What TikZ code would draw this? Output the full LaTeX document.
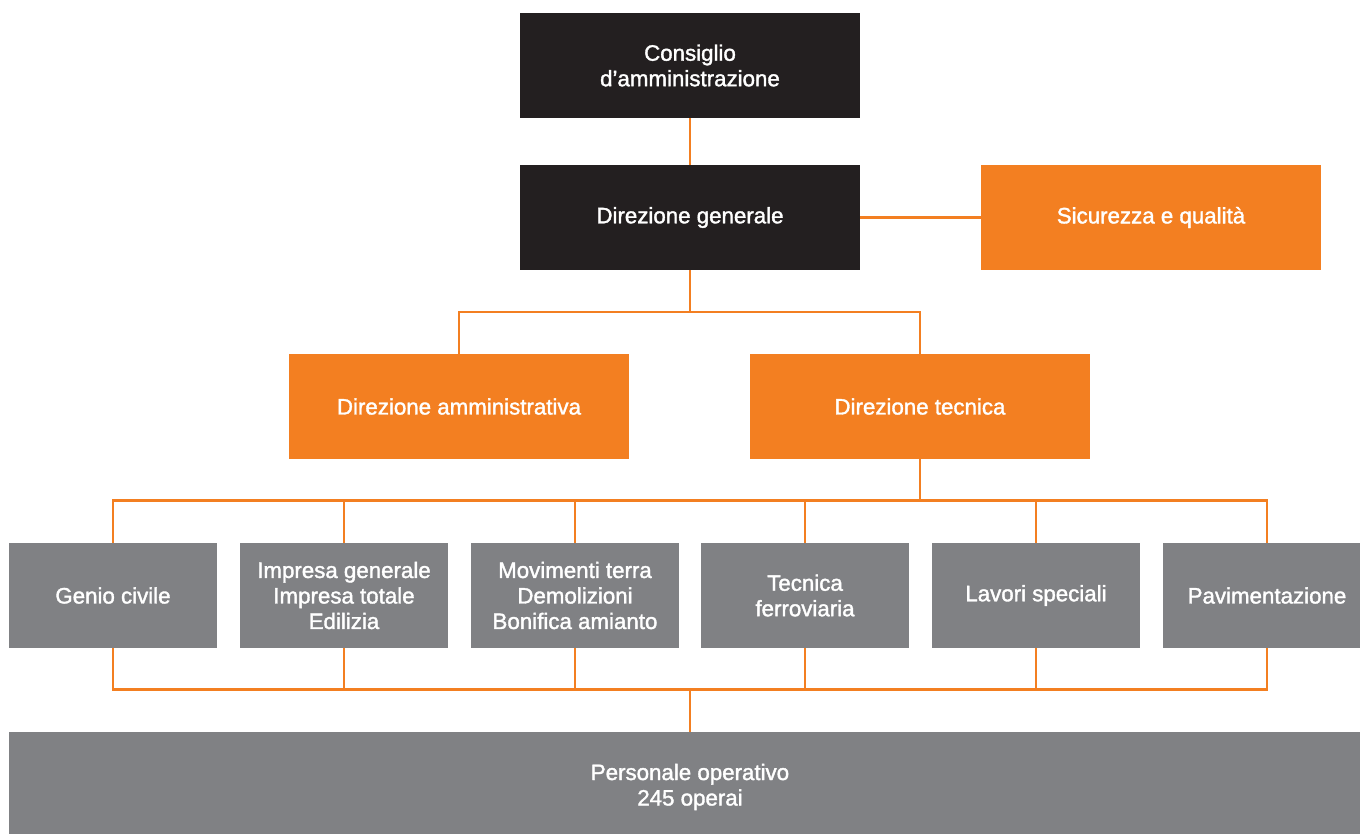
\documentclass[tikz,border=0pt]{standalone}
\usepackage{fontspec}
\setmainfont{Liberation Sans}
\newfontfamily\boxfont{Liberation Sans}[FakeBold=1.6]
\definecolor{darkbox}{HTML}{231F20}
\definecolor{orangebox}{HTML}{F37F21}
\definecolor{greybox}{HTML}{808184}
\begin{document}
\begin{tikzpicture}[x=1pt,y=-1pt,
  basebox/.style={rectangle, inner sep=0pt, text=white, align=center,
    font=\boxfont\fontsize{22.3}{25.5}\selectfont},
  bigbox/.style={basebox, minimum width=340pt, minimum height=105.5pt},
  darknode/.style={bigbox, fill=darkbox},
  orangenode/.style={bigbox, fill=orangebox},
  unitbox/.style={basebox, fill=greybox, minimum width=208pt, minimum height=105.5pt},
  conn/.style={draw=orangebox, line width=2.2pt, line join=miter}]
\useasboundingbox (0,0) rectangle (1360,833);
\clip (0,0) rectangle (1360,833);
% nodes
\node[darknode] (cons) at (690,65.5) {Consiglio\\d’amministrazione};
\node[darknode] (dg) at (690,217.5) {Direzione generale};
\node[orangenode] (sq) at (1151,217.5) {Sicurezza e qualità};
\node[orangenode] (da) at (459,406.5) {Direzione amministrativa};
\node[orangenode] (dt) at (920,406.5) {Direzione tecnica};
\node[unitbox] (b1) at (113,595.5) {Genio civile};
\node[unitbox] (b2) at (344,595.5) {Impresa generale\\Impresa totale\\Edilizia};
\node[unitbox] (b3) at (575,595.5) {Movimenti terra\\Demolizioni\\Bonifica amianto};
\node[unitbox] (b4) at (805,595.5) {Tecnica\\ferroviaria};
\node[unitbox] (b5) at (1036,595.5) {Lavori speciali};
\node[unitbox] (b6) at (1267,595.5) {Pavimentazione};
\node[basebox, fill=greybox, minimum width=1362pt, minimum height=110pt] (pers) at (690,787) {Personale operativo\\245 operai};
% junctions
\coordinate (j1) at (690,312);
\coordinate (j2) at (920,500.5);
\coordinate (j3) at (690,689.5);
% connectors
\draw[conn] (cons.south) -- (dg.north);
\draw[conn] (dg.east) -- (sq.west);
\draw[conn] (dg.south) -- (j1);
\draw[conn] (da.north) -- (da.north |- j1) -- (dt.north |- j1) -- (dt.north);
\draw[conn] (dt.south) -- (j2);
\draw[conn] (b1.north) -- (b1.north |- j2) -- (b6.north |- j2) -- (b6.north);
\foreach \b in {b2,b3,b4,b5} { \draw[conn] (\b.north) -- (\b.north |- j2); }
\draw[conn] (b1.south) -- (b1.south |- j3) -- (b6.south |- j3) -- (b6.south);
\foreach \b in {b2,b3,b4,b5} { \draw[conn] (\b.south) -- (\b.south |- j3); }
\draw[conn] (j3) -- (pers.north);
\end{tikzpicture}
\end{document}
